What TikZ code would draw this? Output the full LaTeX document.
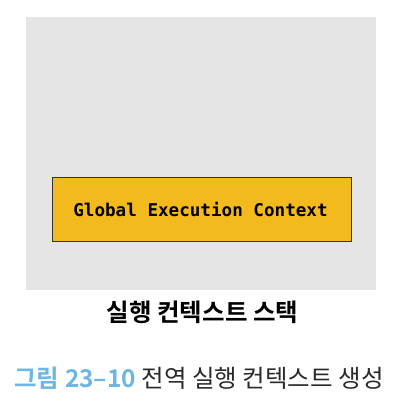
\documentclass[tikz,border=0pt]{standalone}
\usepackage{fontspec}
\newfontfamily\krfont{Noto Sans CJK KR}
\newfontfamily\krbold{Noto Sans CJK KR Bold}
\newfontfamily\monob{DejaVu Sans Mono Bold}
\definecolor{panelgray}{HTML}{E6E5E6}
\definecolor{ecyellow}{HTML}{F3BA1E}
\definecolor{capblue}{HTML}{6DB6E2}
\definecolor{captext}{HTML}{2A2A2A}
\begin{document}
\begin{tikzpicture}[x=1pt,y=-1pt,
  panel/.style={fill=panelgray, draw=none},
  ctxbox/.style={fill=ecyellow, draw=black!80, line width=0.8pt},
  boxtext/.style={font=\monob\fontsize{17.6}{20}\selectfont},
  stacklabel/.style={font=\krbold\fontsize{24.5}{28}\selectfont},
  caption/.style={font=\krfont\fontsize{24.5}{30}\selectfont, text=captext}]
\useasboundingbox (0,0) rectangle (413,404);
\fill[white] (0,0) rectangle (413,404);
\path[panel] (26,17) rectangle (376,290);
\draw[ctxbox] (52,177) rectangle (351,241);
\node[boxtext] (gec) at (200.5,209) {Global Execution Context};
\node[stacklabel] (stk) at (202.5,312) {실행 컨텍스트 스택};
\node[caption] (cap) at (199,378) {{\krbold\textcolor{capblue}{그림 23–10}} 전역 실행 컨텍스트 생성};
\end{tikzpicture}
\end{document}
